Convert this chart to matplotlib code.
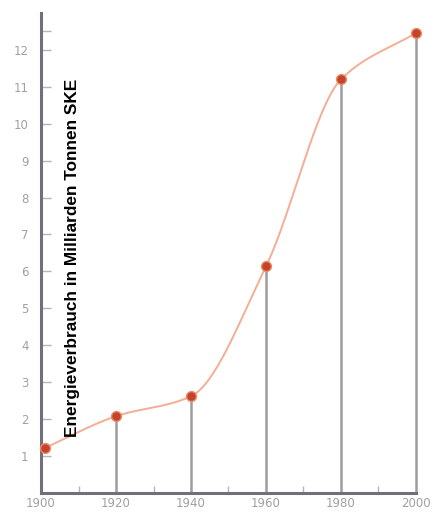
import matplotlib

matplotlib.use("Agg")

import matplotlib.pyplot as plt
import numpy as np

years = [1901, 1920, 1940, 1960, 1980, 2000]
consumption = [1.22, 2.08, 2.62, 6.14, 11.2, 12.46]
x_ticks = [1900, 1920, 1940, 1960, 1980, 2000]
x_minor = [1910, 1930, 1950, 1970, 1990]
y_ticks = list(range(1, 13))
y_label = "Energieverbrauch in Milliarden Tonnen SKE"


def smooth_curve(xs, ys, steps=60):
    # monotone cubic hermite through the data points, only for drawing the line
    xs = np.asarray(xs, float)
    ys = np.asarray(ys, float)
    h = np.diff(xs)
    d = np.diff(ys) / h
    m = np.zeros_like(ys)
    m[0], m[-1] = d[0], d[-1]
    for i in range(1, len(xs) - 1):
        if d[i - 1] * d[i] > 0:
            w1 = 2 * h[i] + h[i - 1]
            w2 = h[i] + 2 * h[i - 1]
            m[i] = (w1 + w2) / (w1 / d[i - 1] + w2 / d[i])
    out_x, out_y = [], []
    for i in range(len(xs) - 1):
        t = np.linspace(0, 1, steps)
        h00 = 2 * t**3 - 3 * t**2 + 1
        h10 = t**3 - 2 * t**2 + t
        h01 = -2 * t**3 + 3 * t**2
        h11 = t**3 - t**2
        out_x.append(xs[i] + t * h[i])
        out_y.append(h00 * ys[i] + h10 * h[i] * m[i] + h01 * ys[i + 1] + h11 * h[i] * m[i + 1])
    return np.concatenate(out_x), np.concatenate(out_y)


fig = plt.figure(figsize=(4.39, 5.15), dpi=100)
ax = fig.add_axes([0.0934, 0.0427, 0.8542, 0.9323])

for x, y in zip(years[1:], consumption[1:]):
    ax.vlines(x, 0, y, color="#9c9ca2", linewidth=1.8, zorder=1, clip_on=False)

cx, cy = smooth_curve(years, consumption)
ax.plot(cx, cy, color="#f3ae94", linewidth=1.4, zorder=2)
ax.scatter(years, consumption, s=50, color="#c4432a", edgecolor="#ea8a66",
           linewidth=1.0, zorder=3, clip_on=False)

ax.set_xlim(1900, 2000)
ax.set_ylim(0, 13)
ax.set_xticks(x_ticks)
ax.set_xticks(x_minor, minor=True)
ax.set_yticks(y_ticks)
ax.set_yticks([12.5], minor=True)

for side in ("top", "right"):
    ax.spines[side].set_visible(False)
for side in ("left", "bottom"):
    ax.spines[side].set_color("#707078")
    ax.spines[side].set_linewidth(2.2)

ax.tick_params(axis="both", which="both", direction="in", colors="#b4b4b4",
               labelcolor="#a0a0a0", labelsize=8.5, width=1)
ax.tick_params(axis="y", which="both", length=7, pad=9)
ax.tick_params(axis="x", which="both", length=5, pad=3)
ax.tick_params(axis="x", which="major", length=0)

ax.text(1908.3, 6.36, y_label, rotation=90, ha="center", va="center",
        fontsize=12.4, fontweight="bold", family="Liberation Sans", color="black")

fig.savefig("out.png", dpi=100)
